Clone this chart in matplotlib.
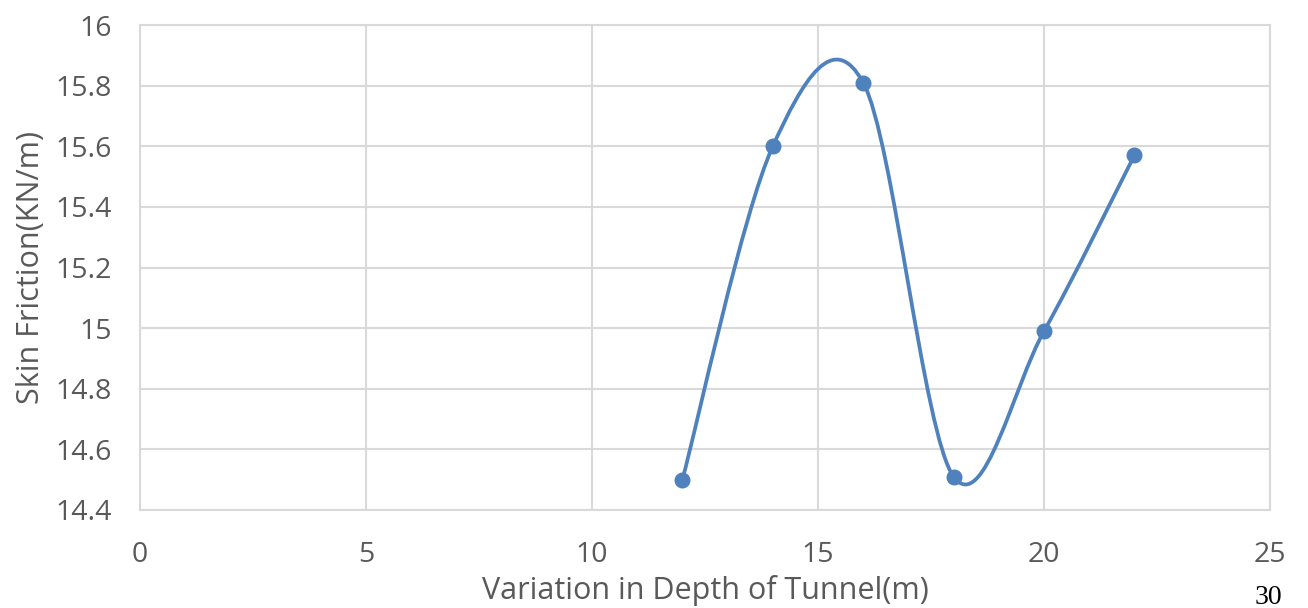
import matplotlib
matplotlib.use("Agg")
import matplotlib.pyplot as plt
from matplotlib.path import Path
from matplotlib.patches import PathPatch

# data
depth = [12, 14, 16, 18, 20, 22]
skin_friction = [14.5, 15.6, 15.81, 14.51, 14.99, 15.57]

x_ticks = [0, 5, 10, 15, 20, 25]
y_ticks = [14.4, 14.6, 14.8, 15, 15.2, 15.4, 15.6, 15.8, 16]
y_labels = ['14.4', '14.6', '14.8', '15', '15.2', '15.4', '15.6', '15.8', '16']

line_col = '#4F81BD'
grid_col = '#D9D9D9'
text_col = '#595959'

plt.rcParams['font.family'] = ['Open Sans', 'DejaVu Sans']

fig = plt.figure(figsize=(13.08, 6.08), dpi=100)
ax = fig.add_axes([140/1308, 98/608, 1130/1308, 485/608])


# smoothed line like Excel (Catmull-Rom as cubic bezier segments)
def smooth_path(xs, ys):
    pts = list(zip(xs, ys))
    n = len(pts)
    verts = [pts[0]]
    codes = [Path.MOVETO]
    for i in range(n - 1):
        p0 = pts[i - 1] if i > 0 else pts[i]
        p1 = pts[i]
        p2 = pts[i + 1]
        p3 = pts[i + 2] if i + 2 < n else pts[i + 1]
        c1 = (p1[0] + (p2[0] - p0[0]) / 6, p1[1] + (p2[1] - p0[1]) / 6)
        c2 = (p2[0] - (p3[0] - p1[0]) / 6, p2[1] - (p3[1] - p1[1]) / 6)
        verts += [c1, c2, p2]
        codes += [Path.CURVE4] * 3
    return Path(verts, codes)


patch = PathPatch(smooth_path(depth, skin_friction), facecolor='none',
                  edgecolor=line_col, linewidth=2.7, zorder=3)
ax.add_patch(patch)
ax.plot(depth, skin_friction, linestyle='none', marker='o', markersize=10.5,
        color=line_col, zorder=4)

ax.set_xlim(0, 25)
ax.set_ylim(14.4, 16)
ax.set_xticks(x_ticks)
ax.set_yticks(y_ticks)
ax.set_yticklabels(y_labels)
ax.grid(True, color=grid_col, linewidth=1.5)
ax.set_axisbelow(True)
for s in ax.spines.values():
    s.set_color(grid_col)
    s.set_linewidth(1.5)
ax.tick_params(length=0, labelsize=20.5, colors=text_col)
ax.tick_params(axis='y', pad=20)
ax.tick_params(axis='x', pad=22)

ax.set_xlabel('Variation in Depth of Tunnel(m)', fontsize=22, color=text_col, labelpad=5)
ax.set_ylabel('Skin Friction(KN/m)', fontsize=22, color=text_col, labelpad=7)

fig.text(1268/1308, 11/608, '30', family='Liberation Serif', fontsize=20,
         ha='center', va='center', color='black')

plt.savefig('out.png')
plt.close()
